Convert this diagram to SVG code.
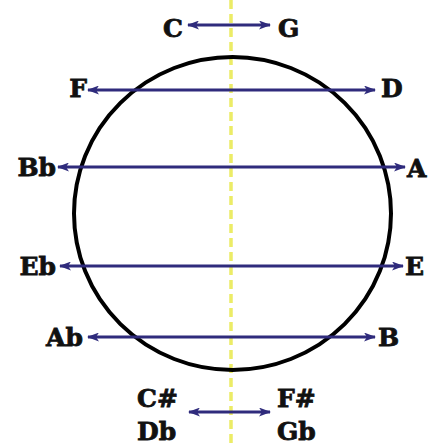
<svg xmlns="http://www.w3.org/2000/svg" width="432" height="447" viewBox="0 0 432 447">
<defs>
<style>
.lbl{font-family:"DejaVu Serif","Liberation Serif",serif;font-weight:bold;font-size:25px;fill:#111;stroke:#111;stroke-width:0.8}
.arr{stroke:#2f2b7c;stroke-width:3;fill:none;marker-start:url(#ah);marker-end:url(#ah)}
</style>
<marker id="ah" viewBox="0 0 12 9" refX="11" refY="4.5" markerWidth="12" markerHeight="9" markerUnits="userSpaceOnUse" orient="auto-start-reverse">
<path d="M0,0 L12,4.5 L0,9 L3,4.5 Z" fill="#2f2b7c"/>
</marker>
</defs>
<rect width="432" height="447" fill="#ffffff"/>
<g id="axis">
<line x1="231" y1="0" x2="231" y2="447" stroke="#ecec66" stroke-width="3.5" stroke-dasharray="9,5"/>
</g>
<g id="circle">
<ellipse cx="232.5" cy="213.5" rx="158.5" ry="156.5" fill="none" stroke="#000" stroke-width="4"/>
</g>
<g id="connectors">
<line class="arr" x1="188" y1="25" x2="270" y2="25"/>
<line class="arr" x1="88" y1="90" x2="375" y2="90"/>
<line class="arr" x1="58" y1="167" x2="405" y2="167"/>
<line class="arr" x1="60" y1="266" x2="403" y2="266"/>
<line class="arr" x1="88" y1="337" x2="375" y2="337"/>
<line class="arr" x1="189" y1="412" x2="270" y2="412"/>
</g>
<g id="n-C"><text class="lbl" x="183" y="37" text-anchor="end">C</text></g>
<g id="n-G"><text class="lbl" x="278" y="37">G</text></g>
<g id="n-F"><text class="lbl" x="87" y="97" text-anchor="end">F</text></g>
<g id="n-D"><text class="lbl" x="381" y="97">D</text></g>
<g id="n-Bb"><text class="lbl" x="56" y="176" text-anchor="end">Bb</text></g>
<g id="n-A"><text class="lbl" x="407" y="177">A</text></g>
<g id="n-Eb"><text class="lbl" x="56" y="275" text-anchor="end">Eb</text></g>
<g id="n-E"><text class="lbl" x="405" y="275">E</text></g>
<g id="n-Ab"><text class="lbl" x="83" y="346" text-anchor="end">Ab</text></g>
<g id="n-B"><text class="lbl" x="378" y="346">B</text></g>
<g id="n-CsDb"><text class="lbl" x="137" y="407">C#</text><text class="lbl" x="137" y="440">Db</text></g>
<g id="n-FsGb"><text class="lbl" x="277" y="407">F#</text><text class="lbl" x="277" y="440">Gb</text></g>
</svg>
